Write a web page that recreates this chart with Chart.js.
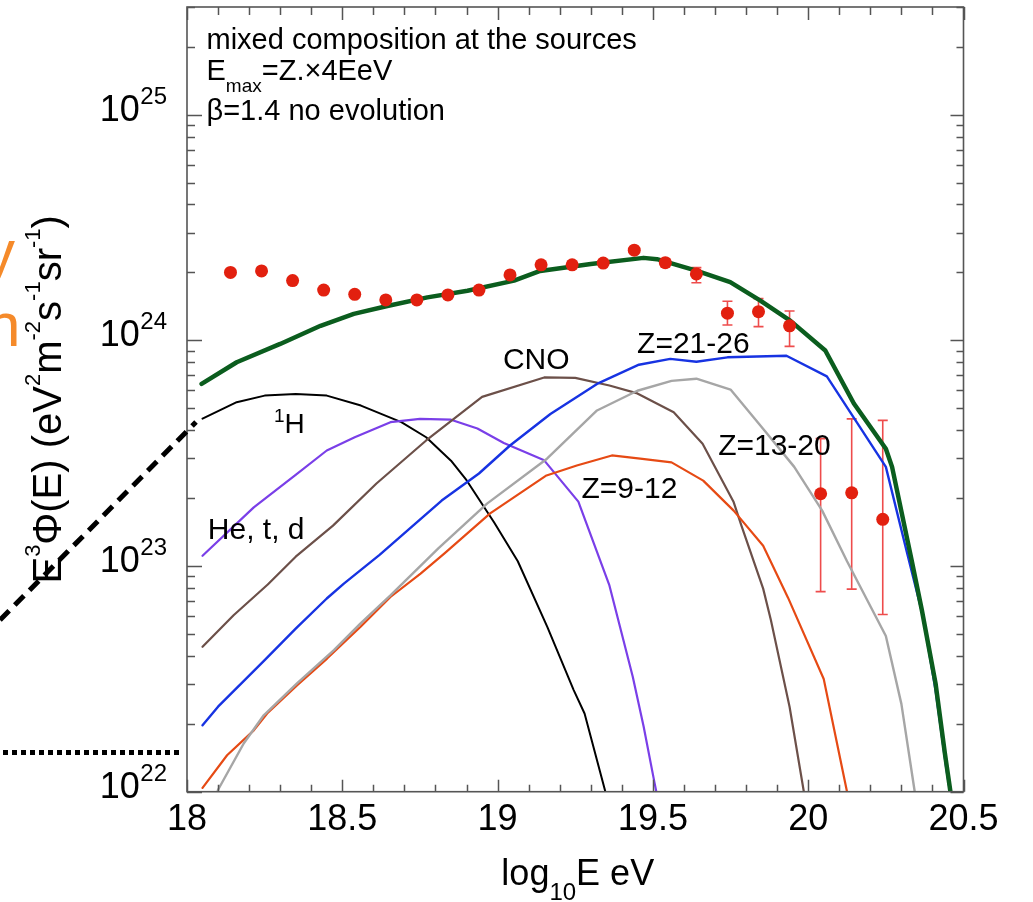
<!DOCTYPE html>
<html>
<head>
<meta charset="utf-8">
<script src="https://cdn.jsdelivr.net/npm/chart.js@4.4.1/dist/chart.umd.min.js"></script>
<style>
html,body{margin:0;padding:0;background:#fff;}
#wrap{position:relative;width:1033px;height:902px;overflow:hidden;background:#fff;}
#c{position:absolute;left:0;top:0;}
svg{position:absolute;left:0;top:0;pointer-events:none;}
.frag{position:absolute;color:#f58a2a;font-family:'Liberation Sans',Arial,Helvetica,sans-serif;font-size:62px;line-height:62px;white-space:nowrap;}
</style>
</head>
<body>
<div id="wrap">
<canvas id="c" width="1033" height="902"></canvas>
<svg width="1033" height="902">
  <line x1="0" y1="620" x2="196" y2="422" stroke="#000" stroke-width="5" stroke-dasharray="13 8"/>
  <line x1="3" y1="752.5" x2="181" y2="752.5" stroke="#000" stroke-width="5" stroke-dasharray="5 4"/>
</svg>
<div class="frag" style="left:-16px;top:221px;">y</div>
<div class="frag" style="left:-14px;top:294px;">n</div>
</div>
<script>
// ---------------- data ----------------
// Auger-like measured points
const dataE = [18.14,18.24,18.34,18.44,18.54,18.64,18.74,18.84,18.94,19.04,19.14,19.24,19.34,19.44,19.54,19.64,19.74,19.84,19.94,20.04,20.14,20.24];
const dataFlux = [2.00e24,2.03e24,1.84e24,1.67e24,1.60e24,1.51e24,1.51e24,1.59e24,1.67e24,1.95e24,2.16e24,2.16e24,2.20e24,2.51e24,2.21e24,1.97e24,1.32e24,1.34e24,1.16e24,2.09e23,2.11e23,1.61e23];
const dataErrLow  = [null,null,null,null,null,null,null,null,null,null,null,null,null,null,2.12e24,1.80e24,1.17e24,1.15e24,9.4e23,7.7e22,7.9e22,6.1e22];
const dataErrHigh = [null,null,null,null,null,null,null,null,null,null,null,null,null,null,2.30e24,2.10e24,1.49e24,1.53e24,1.35e24,3.67e23,4.49e23,4.42e23];

// total model
const totE = [18.047,18.16,18.30,18.43,18.537,18.645,18.774,18.903,19.053,19.137,19.30,19.47,19.513,19.642,19.749,19.846,19.943,20.055,20.147,20.25,20.27,20.333,20.366,20.41,20.44,20.46,20.49];
const totFlux = [6.41e23,8.0e23,9.64e23,1.16e24,1.31e24,1.42e24,1.55e24,1.66e24,1.84e24,2.03e24,2.18e24,2.32e24,2.29e24,2.03e24,1.81e24,1.50e24,1.22e24,9.02e23,5.25e23,3.31e23,2.75e23,1.06e23,6.37e22,3.02e22,1.48e22,9.55e21,5.6e21];

// 1H
const hE = [18.05,18.16,18.25,18.35,18.45,18.56,18.69,18.77,18.85,18.90,18.99,19.065,19.16,19.245,19.28,19.347,19.39];
const hFlux = [4.50e23,5.32e23,5.69e23,5.78e23,5.69e23,5.14e23,4.34e23,3.72e23,2.93e23,2.40e23,1.55e23,1.05e23,5.37e22,2.82e22,2.22e22,1.0e22,6.2e21];

// He, t, d
const heE = [18.05,18.215,18.354,18.45,18.54,18.655,18.75,18.85,18.935,19.02,19.15,19.26,19.36,19.40,19.435,19.47,19.505,19.54];
const heFlux = [1.11e23,1.82e23,2.56e23,3.25e23,3.72e23,4.34e23,4.49e23,4.45e23,4.07e23,3.51e23,2.94e23,1.93e23,8.2e22,5.0e22,3.24e22,1.95e22,1.10e22,6.3e21];

// CNO
const cnoE = [18.05,18.15,18.26,18.35,18.47,18.61,18.77,18.95,19.15,19.25,19.36,19.45,19.567,19.66,19.76,19.785,19.855,19.88,19.94,19.986,20.02];
const cnoFlux = [4.39e22,6.05e22,8.28e22,1.10e23,1.51e23,2.32e23,3.60e23,5.62e23,6.85e23,6.82e23,6.31e23,5.82e23,4.80e23,3.48e23,1.92e23,1.51e23,7.94e22,5.75e22,2.38e22,1.0e22,6.0e21];

// Z = 21-26
const feE = [18.05,18.10,18.25,18.35,18.45,18.505,18.62,18.82,18.94,19.04,19.17,19.32,19.455,19.556,19.64,19.74,19.93,20.06,20.25,20.32,20.37,20.41,20.445,20.48];
const feFlux = [1.97e22,2.38e22,3.83e22,5.28e22,7.18e22,8.36e22,1.12e23,1.95e23,2.57e23,3.42e23,4.72e23,6.41e23,7.80e23,8.28e23,8.04e23,8.41e23,8.55e23,6.92e23,2.75e23,1.12e23,5.94e22,2.82e22,1.26e22,6.3e21];

// Z = 13-20
const siE = [18.05,18.10,18.183,18.247,18.354,18.473,18.558,18.655,18.81,18.966,19.159,19.32,19.45,19.56,19.64,19.75,19.86,19.955,20.045,20.125,20.25,20.30,20.343,20.38];
const siFlux = [5.25e21,1.02e22,1.64e22,2.18e22,3.02e22,4.24e22,5.56e22,7.41e22,1.20e23,1.89e23,2.99e23,4.89e23,5.98e23,6.61e23,6.76e23,6.05e23,3.98e23,2.75e23,1.76e23,1.05e23,4.90e22,2.45e22,1.0e22,6.0e21];

// Z = 9-12
const neE = [18.05,18.129,18.215,18.258,18.354,18.451,18.558,18.655,18.752,18.83,18.976,19.155,19.255,19.368,19.459,19.56,19.662,19.76,19.855,19.935,20.05,20.125,20.16];
const neFlux = [1.04e22,1.45e22,1.87e22,2.22e22,2.96e22,3.89e22,5.37e22,7.29e22,9.25e22,1.14e23,1.71e23,2.51e23,2.79e23,3.09e23,2.99e23,2.88e23,2.39e23,1.76e23,1.23e23,7.24e22,3.16e22,1.0e22,6.3e21];

// axes
const xMin = 18, xMax = 20.5;
const yMin = 1e22, yMax = 3e25;
const xTickValues = [18, 18.5, 19, 19.5, 20, 20.5];
const xTickLabels = ['18', '18.5', '19', '19.5', '20', '20.5'];
const yTickExponents = [22, 23, 24, 25];

// texts
const infoLines = ['mixed composition at the sources', 'E|max|=Z.×4EeV', 'β=1.4 no evolution'];
const curveLabelTexts = ['H', 'He, t, d', 'CNO', 'Z=21-26', 'Z=13-20', 'Z=9-12'];
const curveLabelE = [18.28, 18.067, 19.017, 19.449, 19.71, 19.27];
const curveLabelFlux = [3.89e23, 1.32e23, 7.45e23, 8.77e23, 3.10e23, 2.0e23];

// ---------------- drawing ----------------
const FONT = "'Liberation Sans', Arial, Helvetica, sans-serif";
const pts = (xs, ys) => xs.map((x, i) => ({x: x, y: ys[i]}));

function richWidth(ctx, parts) {
  let w = 0;
  for (const p of parts) { ctx.font = p.s + 'px ' + FONT; w += ctx.measureText(p.t).width; }
  return w;
}
function drawRich(ctx, parts, x, y, align) {
  const w = richWidth(ctx, parts);
  let cx = align === 'center' ? x - w / 2 : (align === 'right' ? x - w : x);
  ctx.textAlign = 'left';
  ctx.textBaseline = 'alphabetic';
  for (const p of parts) {
    ctx.font = p.s + 'px ' + FONT;
    ctx.fillText(p.t, cx, y + (p.dy || 0));
    cx += ctx.measureText(p.t).width;
  }
}

const decorPlugin = {
  id: 'decor',
  beforeDatasetsDraw(chart) {
    const ctx = chart.ctx, xs = chart.scales.x, ys = chart.scales.y;
    ctx.save();
    ctx.strokeStyle = '#ee4c4c';
    ctx.lineWidth = 1.6;
    for (let i = 0; i < dataE.length; i++) {
      if (dataErrLow[i] == null) continue;
      const px = xs.getPixelForValue(dataE[i]);
      const y1 = ys.getPixelForValue(dataErrLow[i]);
      const y2 = ys.getPixelForValue(dataErrHigh[i]);
      ctx.beginPath();
      ctx.moveTo(px, y1); ctx.lineTo(px, y2);
      ctx.moveTo(px - 5, y1); ctx.lineTo(px + 5, y1);
      ctx.moveTo(px - 5, y2); ctx.lineTo(px + 5, y2);
      ctx.stroke();
    }
    ctx.restore();
  },
  afterDatasetsDraw(chart) {
    const ctx = chart.ctx, xs = chart.scales.x, ys = chart.scales.y, a = chart.chartArea;
    ctx.save();
    ctx.fillStyle = '#000';
    // curve labels
    for (let i = 0; i < curveLabelTexts.length; i++) {
      const px = xs.getPixelForValue(curveLabelE[i]);
      const py = ys.getPixelForValue(curveLabelFlux[i]);
      let parts;
      if (i === 0) parts = [{t: '1', s: 19, dy: -11}, {t: curveLabelTexts[i], s: 28}];
      else parts = [{t: curveLabelTexts[i], s: 30}];
      drawRich(ctx, parts, px, py, 'left');
    }
    // info block
    const lx = a.left + 19.5;
    drawRich(ctx, [{t: infoLines[0], s: 29}], lx, a.top + 42.3, 'left');
    const l2 = infoLines[1].split('|');
    drawRich(ctx, [{t: l2[0], s: 29}, {t: l2[1], s: 19, dy: 11.7}, {t: l2[2], s: 29}], lx, a.top + 73, 'left');
    drawRich(ctx, [{t: infoLines[2], s: 29}], lx, a.top + 113, 'left');
    ctx.restore();
  },
  afterDraw(chart) {
    const ctx = chart.ctx, xs = chart.scales.x, ys = chart.scales.y, a = chart.chartArea;
    ctx.save();
    // frame
    ctx.strokeStyle = '#555';
    ctx.lineWidth = 1.6;
    ctx.strokeRect(a.left, a.top, a.right - a.left, a.bottom - a.top);
    // x ticks (bottom & top, inward)
    ctx.lineWidth = 1.5;
    ctx.beginPath();
    for (let k = 0; k <= Math.round((xMax - xMin) * 10); k++) {
      const v = xMin + k * 0.1;
      const px = Math.round(xs.getPixelForValue(v)) + 0.5;
      const major = (k % 5 === 0);
      const lb = major ? 12 : 7, lt = major ? 13 : 8;
      ctx.moveTo(px, a.bottom); ctx.lineTo(px, a.bottom - lb);
      ctx.moveTo(px, a.top); ctx.lineTo(px, a.top + lt);
    }
    // y ticks (left & right, inward)
    for (let e = 22; e <= 25; e++) {
      for (let m = 1; m <= 9; m++) {
        const v = m * Math.pow(10, e);
        if (v < yMin * 0.999 || v > yMax * 1.001) continue;
        const py = Math.round(ys.getPixelForValue(v)) + 0.5;
        const major = (m === 1);
        const ll = major ? 15 : 8, lr = major ? 13 : 7;
        ctx.moveTo(a.left, py); ctx.lineTo(a.left + ll, py);
        ctx.moveTo(a.right, py); ctx.lineTo(a.right - lr, py);
      }
    }
    ctx.stroke();
    // tick labels
    ctx.fillStyle = '#000';
    for (let i = 0; i < xTickValues.length; i++) {
      const px = xs.getPixelForValue(xTickValues[i]);
      drawRich(ctx, [{t: xTickLabels[i], s: 36}], px, a.bottom + 38.5, 'center');
    }
    for (const e of yTickExponents) {
      const py = ys.getPixelForValue(Math.pow(10, e));
      ctx.font = '24px ' + FONT;
      const supW = ctx.measureText(String(e)).width;
      const rightEdge = a.left - 20;
      drawRich(ctx, [{t: String(e), s: 24}], rightEdge, py - 11, 'right');
      drawRich(ctx, [{t: '10', s: 36}], rightEdge - supW - 0.5, py + 6, 'right');
    }
    // x axis title
    drawRich(ctx, [{t: 'log', s: 36}, {t: '10', s: 24, dy: 15}, {t: 'E eV', s: 36}], (a.left + a.right) / 2 + 2.5, a.bottom + 93.3, 'center');
    // y axis title (rotated)
    ctx.save();
    ctx.translate(61, (a.top + a.bottom) / 2);
    ctx.rotate(-Math.PI / 2);
    const sup = 22, base = 40, up = -21;
    drawRich(ctx, [
      {t: 'E', s: base}, {t: '3', s: sup, dy: up}, {t: 'Φ(E) (eV', s: base}, {t: '2', s: sup, dy: up},
      {t: 'm', s: base}, {t: '-2', s: sup, dy: up}, {t: 's', s: base}, {t: '-1', s: sup, dy: up},
      {t: 'sr', s: base}, {t: '-1', s: sup, dy: up}, {t: ')', s: base}
    ], 0, 0, 'center');
    ctx.restore();
    ctx.restore();
  }
};

const lineDs = (label, xs, ys, color, width) => ({
  label: label, data: pts(xs, ys), borderColor: color, borderWidth: width,
  pointRadius: 0, fill: false, tension: 0, clip: 0, borderJoinStyle: 'round', borderCapStyle: 'round'
});

new Chart(document.getElementById('c'), {
  type: 'line',
  data: {
    datasets: [
      {label: 'data', data: pts(dataE, dataFlux), showLine: false, pointRadius: 6.5, pointHoverRadius: 6.5,
       pointBackgroundColor: '#e2200f', pointBorderWidth: 0, borderColor: '#e2200f', clip: false},
      lineDs('total', totE, totFlux, '#0b5d1e', 4.5),
      lineDs('Z=21-26', feE, feFlux, '#1733e2', 2.4),
      lineDs('Z=13-20', siE, siFlux, '#a6a6a6', 2.4),
      lineDs('Z=9-12', neE, neFlux, '#e64a14', 2.2),
      lineDs('CNO', cnoE, cnoFlux, '#6c5049', 2.2),
      lineDs('He, t, d', heE, heFlux, '#7a3fe8', 2.2),
      lineDs('1H', hE, hFlux, '#000000', 2.0)
    ]
  },
  options: {
    responsive: false,
    animation: false,
    devicePixelRatio: 1,
    layout: {padding: {left: 0, right: 69.5, top: 7, bottom: 0}},
    plugins: {legend: {display: false}, tooltip: {enabled: false}},
    events: [],
    scales: {
      x: {type: 'linear', min: xMin, max: xMax, display: true,
          grid: {display: false}, border: {display: false}, ticks: {display: false},
          afterFit: s => { s.height = 110.3; }},
      y: {type: 'logarithmic', min: yMin, max: yMax, display: true,
          grid: {display: false}, border: {display: false}, ticks: {display: false},
          afterFit: s => { s.width = 187; }}
    }
  },
  plugins: [decorPlugin]
});
</script>
</body>
</html>
